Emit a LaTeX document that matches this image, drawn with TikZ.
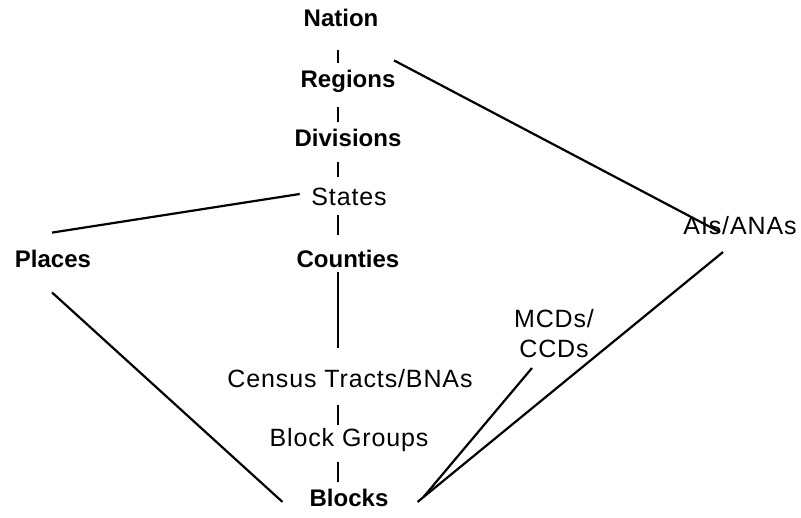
\documentclass[tikz,border=0pt]{standalone}
\usepackage{fontspec}
\setmainfont{Liberation Sans}
\newfontfamily\plainfont[LetterSpace=3.5]{Liberation Sans}

\begin{document}
\begin{tikzpicture}[x=1pt, y=-1pt,
  level/.style={inner sep=0pt, anchor=base, font=\fontsize{24}{30}\selectfont\bfseries},
  area/.style={inner sep=0pt, anchor=base, font=\fontsize{25}{30}\selectfont\plainfont},
  link/.style={line width=2.2pt}]
\useasboundingbox (0,0) rectangle (801,518);
\node[level] (nation) at (341,27) {Nation};
\node[level] (regions) at (348,88) {Regions};
\node[level] (divisions) at (348,147) {Divisions};
\node[area] (states) at (349,206) {States};
\node[level] (places) at (53,268) {Places};
\node[level] (counties) at (348,268) {Counties};
\node[area] (ais) at (740,235) {AIs/ANAs};
\node[area, anchor=south, align=center] (mcds) at (554,358) {MCDs/\\CCDs};
\node[area] (census) at (350,388) {Census Tracts/BNAs};
\node[area] (groups) at (349,447) {Block Groups};
\node[level] (blocks) at (349,507) {Blocks};
\draw[link, shorten <=23pt, shorten >=7.8pt] ([xshift=-3pt]nation.south) -- ([xshift=-10pt]regions.north);
\draw[link, shorten <=14pt, shorten >=7.8pt] ([xshift=-10pt]regions.south) -- ([xshift=-10pt]divisions.north);
\draw[link, shorten <=15pt, shorten >=11pt] ([xshift=-10pt]divisions.south) -- ([xshift=-11pt]states.north);
\draw[link, shorten <=9pt, shorten >=15.5pt] ([xshift=-11pt]states.south) -- ([xshift=-10pt]counties.north);
\draw[link, shorten <=4pt, shorten >=22pt] ([xshift=-10pt]counties.south) -- ([xshift=-12pt]census.north);
\draw[link, shorten <=16.5pt, shorten >=4pt] ([xshift=-12pt]census.south) -- ([xshift=-11pt]groups.north);
\draw[link, shorten <=10pt, shorten >=7pt] ([xshift=-11pt]groups.south) -- ([xshift=-11pt]blocks.north);
\draw[link] ([xshift=-1.5pt, yshift=10pt]regions.north east) -- ([xshift=-20pt, yshift=-15.5pt]ais.north);
\draw[link] ([xshift=-11.5pt, yshift=3.4pt]states.west) -- ([xshift=-1pt, yshift=17.8pt]places.north);
\draw[link] ([xshift=-1pt, yshift=-24pt]places.south) -- ([xshift=-27pt, yshift=-3.5pt]blocks.west);
\draw[link] ([xshift=-22pt, yshift=-10pt]mcds.south) -- ([xshift=35pt, yshift=1.5pt]blocks.east);
\draw[link] ([xshift=-17pt, yshift=-16.6pt]ais.south) -- ([xshift=29pt, yshift=-3.5pt]blocks.east);
\end{tikzpicture}
\end{document}
